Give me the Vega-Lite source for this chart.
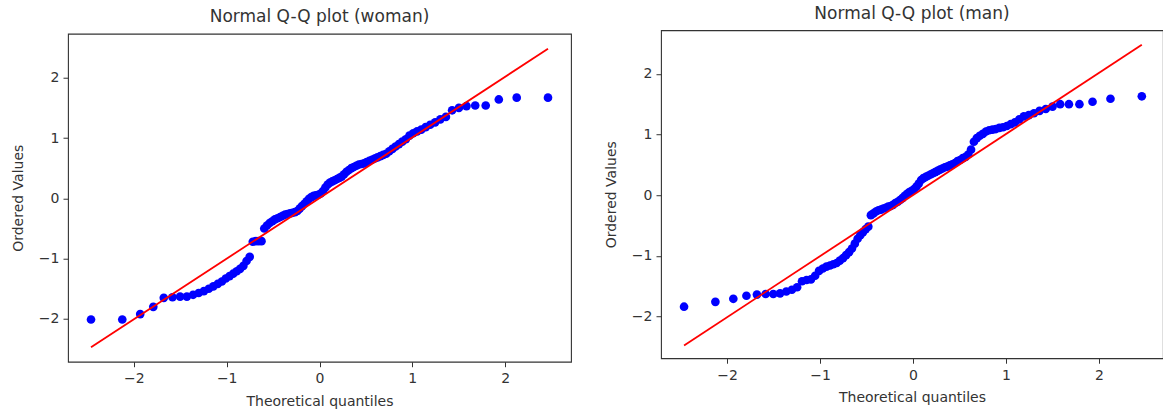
{
  "$schema": "https://vega.github.io/schema/vega-lite/v6.json",
  "padding": {"left": 10, "top": 4, "right": 0, "bottom": 0},
  "background": "white",
  "spacing": 31,
  "center": true,
  "config": {
    "view": {"stroke": "#333333", "strokeWidth": 1.1},
    "axis": {
      "grid": false,
      "domain": false,
      "tickColor": "#333333",
      "tickSize": 5,
      "labelPadding": 4,
      "labelFont": "DejaVu Sans",
      "labelFontSize": 14,
      "labelColor": "#333333",
      "labelFlush": false,
      "format": "d",
      "titleFont": "DejaVu Sans",
      "titleFontSize": 14,
      "titleFontWeight": "normal",
      "titleColor": "#333333"
    },
    "title": {"font": "DejaVu Sans", "fontSize": 17, "fontWeight": "normal", "color": "#333333"}
  },
  "datasets": {
    "woman": [
      {"q": -2.462, "v": -2.01}, {"q": -2.125, "v": -2.01}, {"q": -1.932, "v": -1.92}, {"q": -1.791, "v": -1.80}, {"q": -1.678, "v": -1.65},
      {"q": -1.584, "v": -1.64}, {"q": -1.502, "v": -1.63}, {"q": -1.429, "v": -1.63}, {"q": -1.362, "v": -1.60}, {"q": -1.302, "v": -1.57},
      {"q": -1.246, "v": -1.54}, {"q": -1.193, "v": -1.50}, {"q": -1.144, "v": -1.46}, {"q": -1.097, "v": -1.42}, {"q": -1.052, "v": -1.38},
      {"q": -1.010, "v": -1.33}, {"q": -0.969, "v": -1.29}, {"q": -0.930, "v": -1.25}, {"q": -0.892, "v": -1.21}, {"q": -0.856, "v": -1.17},
      {"q": -0.820, "v": -1.12}, {"q": -0.786, "v": -1.04}, {"q": -0.752, "v": -0.97}, {"q": -0.719, "v": -0.72}, {"q": -0.687, "v": -0.71},
      {"q": -0.656, "v": -0.71}, {"q": -0.625, "v": -0.71}, {"q": -0.595, "v": -0.50}, {"q": -0.566, "v": -0.45}, {"q": -0.537, "v": -0.41},
      {"q": -0.508, "v": -0.38}, {"q": -0.480, "v": -0.35}, {"q": -0.452, "v": -0.33}, {"q": -0.424, "v": -0.31}, {"q": -0.397, "v": -0.29},
      {"q": -0.370, "v": -0.27}, {"q": -0.344, "v": -0.26}, {"q": -0.317, "v": -0.25}, {"q": -0.291, "v": -0.24}, {"q": -0.265, "v": -0.23},
      {"q": -0.239, "v": -0.21}, {"q": -0.214, "v": -0.17}, {"q": -0.189, "v": -0.13}, {"q": -0.163, "v": -0.09}, {"q": -0.138, "v": -0.05},
      {"q": -0.113, "v": -0.01}, {"q": -0.088, "v": 0.02}, {"q": -0.063, "v": 0.04}, {"q": -0.038, "v": 0.05}, {"q": -0.013, "v": 0.06},
      {"q": 0.013, "v": 0.08}, {"q": 0.038, "v": 0.12}, {"q": 0.063, "v": 0.18}, {"q": 0.088, "v": 0.23}, {"q": 0.113, "v": 0.26},
      {"q": 0.138, "v": 0.28}, {"q": 0.163, "v": 0.30}, {"q": 0.189, "v": 0.32}, {"q": 0.214, "v": 0.34}, {"q": 0.239, "v": 0.36},
      {"q": 0.265, "v": 0.40}, {"q": 0.291, "v": 0.44}, {"q": 0.317, "v": 0.47}, {"q": 0.344, "v": 0.50}, {"q": 0.370, "v": 0.52},
      {"q": 0.397, "v": 0.54}, {"q": 0.424, "v": 0.56}, {"q": 0.452, "v": 0.57}, {"q": 0.480, "v": 0.58}, {"q": 0.508, "v": 0.60},
      {"q": 0.537, "v": 0.62}, {"q": 0.566, "v": 0.64}, {"q": 0.595, "v": 0.66}, {"q": 0.625, "v": 0.68}, {"q": 0.656, "v": 0.70},
      {"q": 0.687, "v": 0.72}, {"q": 0.719, "v": 0.74}, {"q": 0.752, "v": 0.78}, {"q": 0.786, "v": 0.82}, {"q": 0.820, "v": 0.86},
      {"q": 0.856, "v": 0.90}, {"q": 0.892, "v": 0.94}, {"q": 0.930, "v": 0.98}, {"q": 0.969, "v": 1.04}, {"q": 1.010, "v": 1.08},
      {"q": 1.052, "v": 1.11}, {"q": 1.097, "v": 1.14}, {"q": 1.144, "v": 1.18}, {"q": 1.193, "v": 1.22}, {"q": 1.246, "v": 1.26},
      {"q": 1.302, "v": 1.31}, {"q": 1.362, "v": 1.35}, {"q": 1.429, "v": 1.46}, {"q": 1.502, "v": 1.50}, {"q": 1.584, "v": 1.53},
      {"q": 1.678, "v": 1.54}, {"q": 1.791, "v": 1.54}, {"q": 1.932, "v": 1.64}, {"q": 2.125, "v": 1.67}, {"q": 2.462, "v": 1.67}
    ],
    "man": [
      {"q": -2.462, "v": -1.84}, {"q": -2.125, "v": -1.76}, {"q": -1.932, "v": -1.71}, {"q": -1.791, "v": -1.66}, {"q": -1.678, "v": -1.64},
      {"q": -1.584, "v": -1.63}, {"q": -1.502, "v": -1.63}, {"q": -1.429, "v": -1.62}, {"q": -1.362, "v": -1.59}, {"q": -1.302, "v": -1.56},
      {"q": -1.246, "v": -1.52}, {"q": -1.193, "v": -1.42}, {"q": -1.144, "v": -1.40}, {"q": -1.097, "v": -1.39}, {"q": -1.052, "v": -1.33},
      {"q": -1.010, "v": -1.25}, {"q": -0.969, "v": -1.21}, {"q": -0.930, "v": -1.18}, {"q": -0.892, "v": -1.16}, {"q": -0.856, "v": -1.14},
      {"q": -0.820, "v": -1.12}, {"q": -0.786, "v": -1.08}, {"q": -0.752, "v": -1.04}, {"q": -0.719, "v": -0.99}, {"q": -0.687, "v": -0.94},
      {"q": -0.656, "v": -0.88}, {"q": -0.625, "v": -0.80}, {"q": -0.595, "v": -0.72}, {"q": -0.566, "v": -0.66}, {"q": -0.537, "v": -0.61},
      {"q": -0.508, "v": -0.56}, {"q": -0.480, "v": -0.52}, {"q": -0.452, "v": -0.33}, {"q": -0.424, "v": -0.30}, {"q": -0.397, "v": -0.27},
      {"q": -0.370, "v": -0.25}, {"q": -0.344, "v": -0.24}, {"q": -0.317, "v": -0.22}, {"q": -0.291, "v": -0.21}, {"q": -0.265, "v": -0.19},
      {"q": -0.239, "v": -0.18}, {"q": -0.214, "v": -0.16}, {"q": -0.189, "v": -0.13}, {"q": -0.163, "v": -0.11}, {"q": -0.138, "v": -0.08},
      {"q": -0.113, "v": -0.05}, {"q": -0.088, "v": -0.01}, {"q": -0.063, "v": 0.02}, {"q": -0.038, "v": 0.05}, {"q": -0.013, "v": 0.07},
      {"q": 0.013, "v": 0.10}, {"q": 0.038, "v": 0.14}, {"q": 0.063, "v": 0.19}, {"q": 0.088, "v": 0.25}, {"q": 0.113, "v": 0.28},
      {"q": 0.138, "v": 0.30}, {"q": 0.163, "v": 0.32}, {"q": 0.189, "v": 0.34}, {"q": 0.214, "v": 0.36}, {"q": 0.239, "v": 0.38},
      {"q": 0.265, "v": 0.40}, {"q": 0.291, "v": 0.42}, {"q": 0.317, "v": 0.44}, {"q": 0.344, "v": 0.46}, {"q": 0.370, "v": 0.47},
      {"q": 0.397, "v": 0.49}, {"q": 0.424, "v": 0.51}, {"q": 0.452, "v": 0.53}, {"q": 0.480, "v": 0.56}, {"q": 0.508, "v": 0.58},
      {"q": 0.537, "v": 0.61}, {"q": 0.566, "v": 0.63}, {"q": 0.595, "v": 0.67}, {"q": 0.625, "v": 0.75}, {"q": 0.656, "v": 0.88},
      {"q": 0.687, "v": 0.94}, {"q": 0.719, "v": 0.98}, {"q": 0.752, "v": 1.01}, {"q": 0.786, "v": 1.05}, {"q": 0.820, "v": 1.07},
      {"q": 0.856, "v": 1.08}, {"q": 0.892, "v": 1.09}, {"q": 0.930, "v": 1.11}, {"q": 0.969, "v": 1.12}, {"q": 1.010, "v": 1.14},
      {"q": 1.052, "v": 1.17}, {"q": 1.097, "v": 1.20}, {"q": 1.144, "v": 1.25}, {"q": 1.193, "v": 1.30}, {"q": 1.246, "v": 1.32},
      {"q": 1.302, "v": 1.35}, {"q": 1.362, "v": 1.39}, {"q": 1.429, "v": 1.42}, {"q": 1.502, "v": 1.46}, {"q": 1.584, "v": 1.50},
      {"q": 1.678, "v": 1.50}, {"q": 1.791, "v": 1.50}, {"q": 1.932, "v": 1.54}, {"q": 2.125, "v": 1.59}, {"q": 2.462, "v": 1.63}
    ],
    "womanFit": [{"q": -2.462, "v": -2.47}, {"q": 2.462, "v": 2.48}],
    "manFit": [{"q": -2.462, "v": -2.48}, {"q": 2.462, "v": 2.48}]
  },
  "hconcat": [
    {
      "width": 503,
      "height": 328,
      "title": {"text": "Normal Q-Q plot (woman)", "offset": 8},
      "layer": [
        {
          "data": {"name": "woman"},
          "mark": {"type": "circle", "size": 75, "color": "#0000ff", "opacity": 1},
          "encoding": {
            "x": {"field": "q", "type": "quantitative", "scale": {"domain": [-2.71, 2.71], "nice": false, "zero": false}, "axis": {"values": [-2, -1, 0, 1, 2], "title": "Theoretical quantiles", "titlePadding": 9, "labelPadding": 5}},
            "y": {"field": "v", "type": "quantitative", "scale": {"domain": [-2.71, 2.73], "nice": false, "zero": false}, "axis": {"values": [-2, -1, 0, 1, 2], "title": "Ordered Values", "titlePadding": 13}}
          }
        },
        {
          "data": {"name": "womanFit"},
          "mark": {"type": "line", "color": "#ff0000", "strokeWidth": 1.8},
          "encoding": {
            "x": {"field": "q", "type": "quantitative"},
            "y": {"field": "v", "type": "quantitative"}
          }
        }
      ]
    },
    {
      "width": 502,
      "height": 328,
      "title": {"text": "Normal Q-Q plot (man)", "offset": 7},
      "layer": [
        {
          "data": {"name": "man"},
          "mark": {"type": "circle", "size": 75, "color": "#0000ff", "opacity": 1},
          "encoding": {
            "x": {"field": "q", "type": "quantitative", "scale": {"domain": [-2.71, 2.69], "nice": false, "zero": false}, "axis": {"values": [-2, -1, 0, 1, 2], "title": ["Theoretical quantiles", ""], "titleLineHeight": 8, "titlePadding": 8, "labelPadding": 5}},
            "y": {"field": "v", "type": "quantitative", "scale": {"domain": [-2.69, 2.72], "nice": false, "zero": false}, "axis": {"values": [-2, -1, 0, 1, 2], "title": "Ordered Values", "titlePadding": 13}}
          }
        },
        {
          "data": {"name": "manFit"},
          "mark": {"type": "line", "color": "#ff0000", "strokeWidth": 1.8},
          "encoding": {
            "x": {"field": "q", "type": "quantitative"},
            "y": {"field": "v", "type": "quantitative"}
          }
        }
      ]
    }
  ]
}
